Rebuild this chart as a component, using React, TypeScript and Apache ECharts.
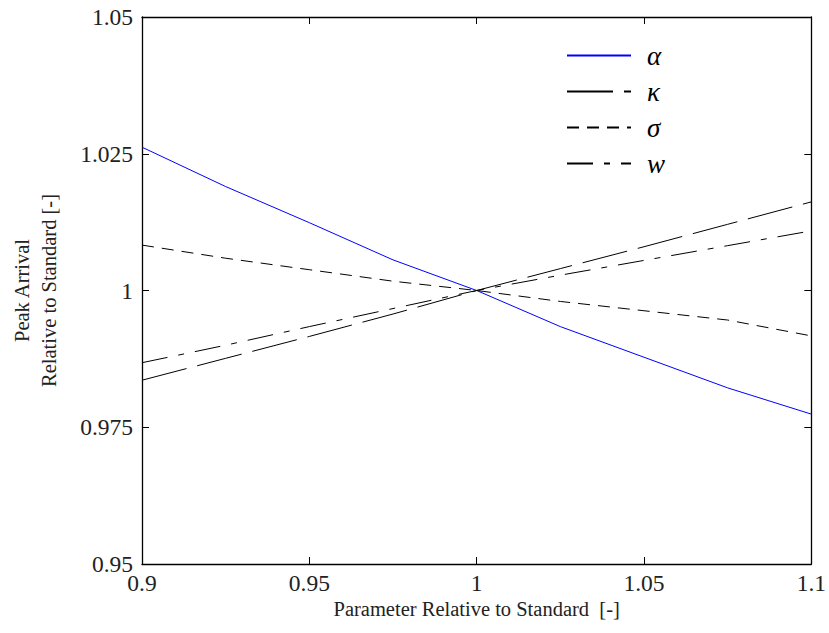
import React, { useEffect, useRef } from "react";
import * as echarts from "echarts";

const xValues = [0.9, 0.925, 0.95, 0.975, 1.0, 1.025, 1.05, 1.075, 1.1];
const alphaValues = [1.0262, 1.019, 1.0124, 1.0056, 1.0, 0.9934, 0.9878, 0.9822, 0.9774];
const kappaValues = [0.9836, 0.9876, 0.9916, 0.9957, 1.0, 1.004, 1.008, 1.0121, 1.0162];
const sigmaValues = [1.0083, 1.0059, 1.0038, 1.0017, 1.0, 0.998, 0.9963, 0.9946, 0.9917];
const wValues = [0.9868, 0.99, 0.9934, 0.9967, 1.0, 1.0028, 1.0055, 1.0082, 1.0109];
const seriesNames = ["α", "κ", "σ", "w"];
const xTickLabels = ["0.9", "0.95", "1", "1.05", "1.1"];
const yTickLabels = ["0.95", "0.975", "1", "1.025", "1.05"];

const FONT = "'Liberation Serif', 'DejaVu Serif', serif";

export default function App() {
  const ref = useRef<HTMLDivElement>(null);
  useEffect(() => {
    if (!ref.current) return;
    const chart = echarts.init(ref.current, undefined, { renderer: "svg" });
    const pair = (ys: number[]) => xValues.map((x, i) => [x, ys[i]]);
    const fmtX = (v: number) => {
      const s = String(+v.toFixed(3));
      return xTickLabels.includes(s) ? s : "";
    };
    const fmtY = (v: number) => {
      const s = String(+v.toFixed(3));
      return yTickLabels.includes(s) ? s : "";
    };
    const axisLine = { show: true, lineStyle: { color: "#000", width: 1.3 } };
    const tick = { show: true, inside: true, length: 7, lineStyle: { color: "#000", width: 1 } };
    const labelStyle = { color: "#222", fontFamily: FONT, fontSize: 23.5, lineHeight: 20 };
    const nameStyle = { color: "#222", fontFamily: FONT, fontSize: 20.5 };
    chart.setOption({
      animation: false,
      backgroundColor: "#fff",
      grid: { left: 140, top: 17, right: 16, bottom: 69 },
      legend: {
        orient: "vertical",
        left: 566,
        top: 42,
        padding: 0,
        itemWidth: 64,
        itemHeight: 14,
        itemGap: 9,
        data: seriesNames,
        itemStyle: { opacity: 0 },
        textStyle: {
          fontFamily: FONT,
          fontStyle: "italic",
          fontSize: 27,
          color: "#000",
          padding: [0, 0, 0, 11],
        },
      },
      xAxis: [
        {
          type: "value",
          min: 0.9,
          max: 1.1,
          interval: 0.05,
          position: "bottom",
          axisLine,
          axisTick: tick,
          splitLine: { show: false },
          axisLabel: { ...labelStyle, margin: 9, formatter: fmtX },
          name: "Parameter Relative to Standard  [-]",
          nameLocation: "middle",
          nameGap: 35,
          nameMoveOverlap: false,
          nameTextStyle: { ...nameStyle, verticalAlign: "top", lineHeight: 20 },
        },
        {
          type: "value",
          min: 0.9,
          max: 1.1,
          interval: 0.05,
          position: "top",
          axisLine,
          axisTick: tick,
          splitLine: { show: false },
          axisLabel: { show: false },
        },
      ],
      yAxis: [
        {
          type: "value",
          min: 0.95,
          max: 1.05,
          interval: 0.025,
          position: "left",
          axisLine,
          axisTick: tick,
          splitLine: { show: false },
          axisLabel: { ...labelStyle, margin: 9, formatter: fmtY },
          name: "Peak Arrival\nRelative to Standard [-]",
          nameLocation: "middle",
          nameRotate: 90,
          nameGap: 80,
          nameTextStyle: { ...nameStyle, lineHeight: 27 },
        },
        {
          type: "value",
          min: 0.95,
          max: 1.05,
          interval: 0.025,
          position: "right",
          axisLine,
          axisTick: tick,
          splitLine: { show: false },
          axisLabel: { show: false },
        },
      ],
      series: [
        {
          name: seriesNames[0],
          type: "line",
          data: pair(alphaValues),
          symbol: "none",
          lineStyle: { color: "#0000ff", width: 1, type: "solid" },
          itemStyle: { color: "#0000ff" },
        },
        {
          name: seriesNames[1],
          type: "line",
          data: pair(kappaValues),
          symbol: "none",
          lineStyle: { color: "#000", width: 1, type: [46, 11] },
          itemStyle: { color: "#000" },
        },
        {
          name: seriesNames[2],
          type: "line",
          data: pair(sigmaValues),
          symbol: "none",
          lineStyle: { color: "#000", width: 1, type: [12, 8] },
          itemStyle: { color: "#000" },
        },
        {
          name: seriesNames[3],
          type: "line",
          data: pair(wValues),
          symbol: "none",
          lineStyle: { color: "#000", width: 1, type: [26, 11, 6, 11] },
          itemStyle: { color: "#000" },
        },
      ],
    });
    return () => chart.dispose();
  }, []);
  return (
    <div
      ref={ref}
      style={{ position: "fixed", left: 0, top: 0, width: 829, height: 633 }}
    />
  );
}
